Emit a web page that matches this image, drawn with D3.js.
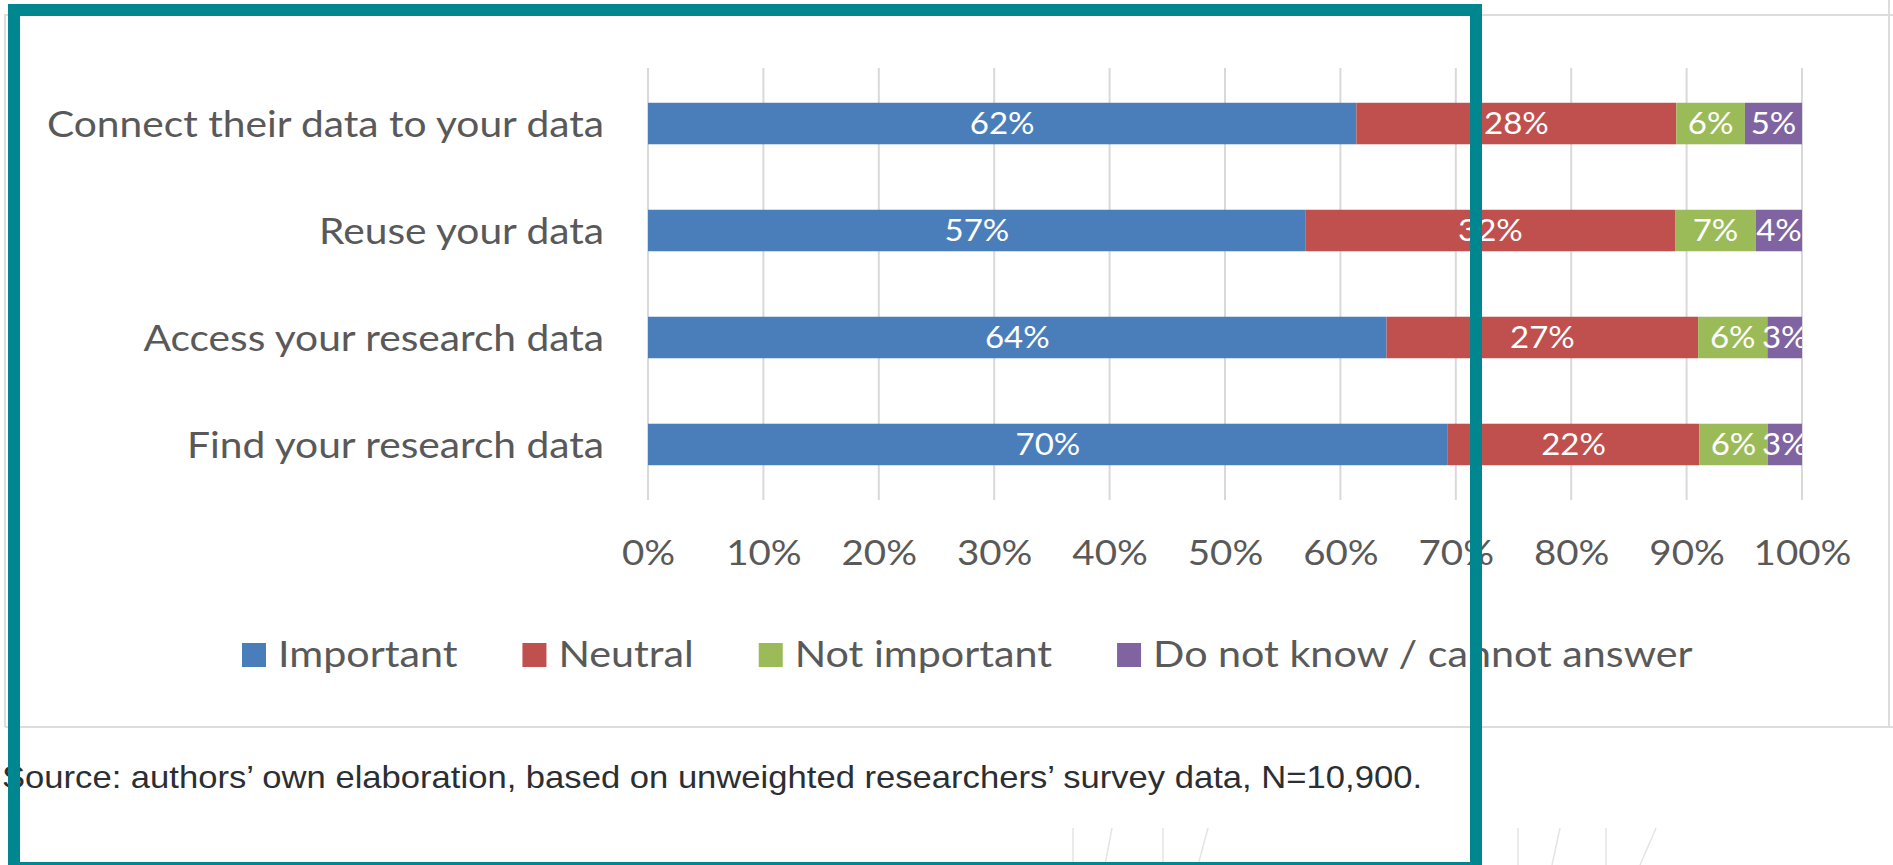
<!DOCTYPE html>
<html><head><meta charset="utf-8">
<script src="https://cdn.jsdelivr.net/npm/d3@7"></script>
<style>html,body{margin:0;padding:0;background:#fff;overflow:hidden}</style>
</head><body><svg id="chart" width="1893" height="865"></svg>
<script>
// ---- data ----
const categories = ["Connect their data to your data", "Reuse your data", "Access your research data", "Find your research data"];
const seriesNames = ["Important", "Neutral", "Not important", "Do not know / cannot answer"];
const important = [62, 57, 64, 70];
const neutral = [28, 32, 27, 22];
const notImportant = [6, 7, 6, 6];
const dontKnow = [5, 4, 3, 3];
const xTicks = [0, 0.1, 0.2, 0.3, 0.4, 0.5, 0.6, 0.7, 0.8, 0.9, 1.0];
const sourceNote = "Source: authors\u2019 own elaboration, based on unweighted researchers\u2019 survey data, N=10,900.";

// ---- style ----
const colors = ["#4a7ebb", "#c0504d", "#9bbb59", "#8064a2"];
const textGray = "#595959";
const gridGray = "#d9d9d9";
const teal = "#00868f";
const SX = 1.1;           // horizontal text stretch of the reference picture
const FONT = "Lato, 'Open Sans', sans-serif";

const svg = d3.select("#chart");
svg.append("rect").attr("width", 1893).attr("height", 865).attr("fill", "#fff");

// frame of the underlying chart screenshot
const frame = svg.append("g").attr("stroke", "#dcdcdc").attr("stroke-width", 2).attr("fill", "none");
frame.append("path").attr("d", "M5,727 V15 H1893");
frame.append("path").attr("d", "M1889,0 V727");
frame.append("line").attr("x1", 5).attr("x2", 1893).attr("y1", 727).attr("y2", 727);

// ---- scales ----
const x = d3.scaleLinear().domain([0, 1]).range([648, 1802]);
const y = d3.scaleBand().domain(categories).range([68, 500]).paddingInner(0.612).paddingOuter(0.325);

const rows = categories.map((c, i) => ({
  cat: c,
  [seriesNames[0]]: important[i],
  [seriesNames[1]]: neutral[i],
  [seriesNames[2]]: notImportant[i],
  [seriesNames[3]]: dontKnow[i]
}));
const stack = d3.stack().keys(seriesNames).offset(d3.stackOffsetExpand)(rows);

// gridlines
svg.append("g").selectAll("line").data(xTicks).join("line")
  .attr("x1", d => x(d)).attr("x2", d => x(d))
  .attr("y1", y.range()[0]).attr("y2", y.range()[1])
  .attr("stroke", gridGray).attr("stroke-width", 2);

// bars
const layers = svg.append("g").selectAll("g").data(stack).join("g")
  .attr("fill", (d, i) => colors[i]);
layers.selectAll("rect").data(d => d).join("rect")
  .attr("x", d => x(d[0]))
  .attr("width", d => x(d[1]) - x(d[0]))
  .attr("y", d => y(d.data.cat))
  .attr("height", y.bandwidth());

// value labels (clipped to plot area like the original)
svg.append("clipPath").attr("id", "plotClip").append("rect")
  .attr("x", x(0)).attr("y", y.range()[0]).attr("width", x(1) - x(0)).attr("height", y.range()[1] - y.range()[0]);
const lblFs = 30;
const lblG = svg.append("g").attr("clip-path", "url(#plotClip)");
stack.forEach(layer => {
  lblG.append("g").selectAll("text").data(layer).join("text")
    .attr("transform", d => `translate(${x((d[0] + d[1]) / 2)},${y(d.data.cat) + y.bandwidth() / 2 + lblFs * 0.36}) scale(${SX},1)`)
    .attr("text-anchor", "middle")
    .attr("font-family", FONT).attr("font-size", lblFs)
    .attr("fill", "#fff")
    .text(d => d.data[layer.key] + "%");
});

// category labels
const catFs = 37;
svg.append("g").selectAll("text").data(categories).join("text")
  .attr("transform", d => `translate(${x(0) - 44},${y(d) + y.bandwidth() / 2 + catFs * 0.36}) scale(${SX},1)`)
  .attr("text-anchor", "end")
  .attr("font-family", FONT).attr("font-size", catFs)
  .attr("fill", textGray)
  .text(d => d);

// x axis tick labels
const axisG = svg.append("g").attr("transform", "translate(0,565)")
  .call(d3.axisBottom(x).tickValues(xTicks).tickFormat(d3.format(".0%")).tickSize(0).tickPadding(0));
axisG.select(".domain").remove();
axisG.selectAll("text")
  .attr("y", 0).attr("dy", null)
  .attr("transform", `scale(${SX},1)`)
  .attr("font-family", FONT).attr("font-size", 35)
  .attr("fill", textGray);

// legend
const legFs = 37.5;
const legG = svg.append("g");
let lx = 242;
seriesNames.forEach((name, i) => {
  const g = legG.append("g").attr("transform", `translate(${lx},0)`);
  g.append("rect").attr("x", 0).attr("y", 643).attr("width", 24).attr("height", 24).attr("fill", colors[i]);
  const t = g.append("text")
    .attr("transform", `translate(36,667) scale(${SX},1)`)
    .attr("font-family", FONT).attr("font-size", legFs)
    .attr("fill", textGray).text(name);
  lx += 36 + t.node().getComputedTextLength() * SX + 65;
});

// source note
svg.append("text")
  .attr("x", 2).attr("y", 788)
  .attr("font-family", "'Liberation Sans', Arial, sans-serif").attr("font-size", 32)
  .attr("fill", "#2b2f33")
  .attr("textLength", 1420).attr("lengthAdjust", "spacingAndGlyphs")
  .text(sourceNote);

// faint marks at the bottom of the screenshot
const marks = [[1073, 1073], [1105, 1112], [1163, 1163], [1198, 1208], [1518, 1518], [1552, 1560], [1606, 1606], [1640, 1656]];
svg.append("g").selectAll("line").data(marks).join("line")
  .attr("x1", d => d[1]).attr("y1", 828).attr("x2", d => d[0]).attr("y2", 865)
  .attr("stroke", "#e4e4e4").attr("stroke-width", 1.5);

// teal highlight box
svg.append("rect")
  .attr("x", 14).attr("y", 10).attr("width", 1462).attr("height", 858)
  .attr("fill", "none").attr("stroke", teal).attr("stroke-width", 12);
</script>
</body></html>
